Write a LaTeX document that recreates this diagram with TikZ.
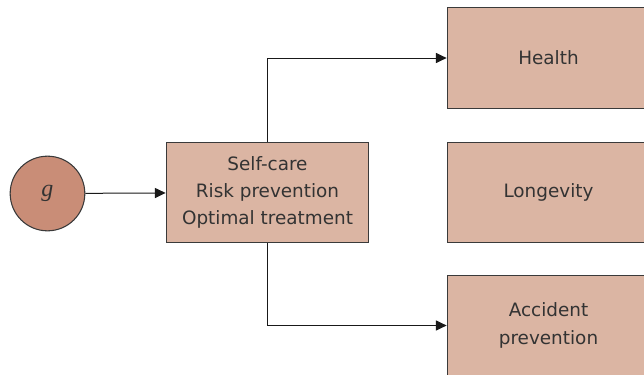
\documentclass[tikz,border=0pt]{standalone}
\usepackage{fontspec}
\setmainfont{DejaVu Sans}
\newfontfamily\genefont{Liberation Serif}
\usetikzlibrary{arrows.meta}

\definecolor{boxfill}{HTML}{DBB5A3}
\definecolor{circfill}{HTML}{C98D77}
\definecolor{edgegray}{HTML}{3A3A3A}
\definecolor{textgray}{HTML}{333333}

\tikzset{
    factorbox/.style={draw=edgegray,line width=0.8pt,fill=boxfill,minimum width=152pt,minimum height=75.5pt,inner sep=0pt,align=center,text=textgray,font=\fontsize{13.8}{20.5}\selectfont},
    genecircle/.style={circle,draw=edgegray,line width=0.8pt,fill=circfill,minimum size=56pt,inner sep=0pt,text=textgray,font=\genefont\itshape\fontsize{18}{20}\selectfont},
    link/.style={draw=black!90,line width=0.75pt,-{Triangle[length=8pt,width=7.5pt]}}
}

\begin{document}
\begin{tikzpicture}[x=0.75pt,y=0.75pt,yscale=-1,xscale=1]
        \useasboundingbox (0,0) rectangle (644,375);
        \clip (0,0) rectangle (644,375);

        %Shape: Circle
        \node [genecircle] (g) at (47.5,193.5) {g};
        %Shape: Rectangle
        \node [factorbox] (care) at (267.5,192.5) {Self-care\\Risk prevention\\Optimal treatment};
        %Shape: Rectangle
        \node [factorbox] (health) at (548.5,58) {Health};
        %Shape: Rectangle
        \node [factorbox] (longevity) at (548.5,192.5) {Longevity};
        %Shape: Rectangle
        \node [factorbox] (accident) at (548.5,325.5) {Accident\\prevention};

        %Straight Lines
        \draw [link] (g) -- (care);
        %Straight Lines
        \draw [link] (care.north) |- (health.west);
        %Straight Lines
        \draw [link] (care.south) |- (accident.west);
        \end{tikzpicture}
\end{document}
